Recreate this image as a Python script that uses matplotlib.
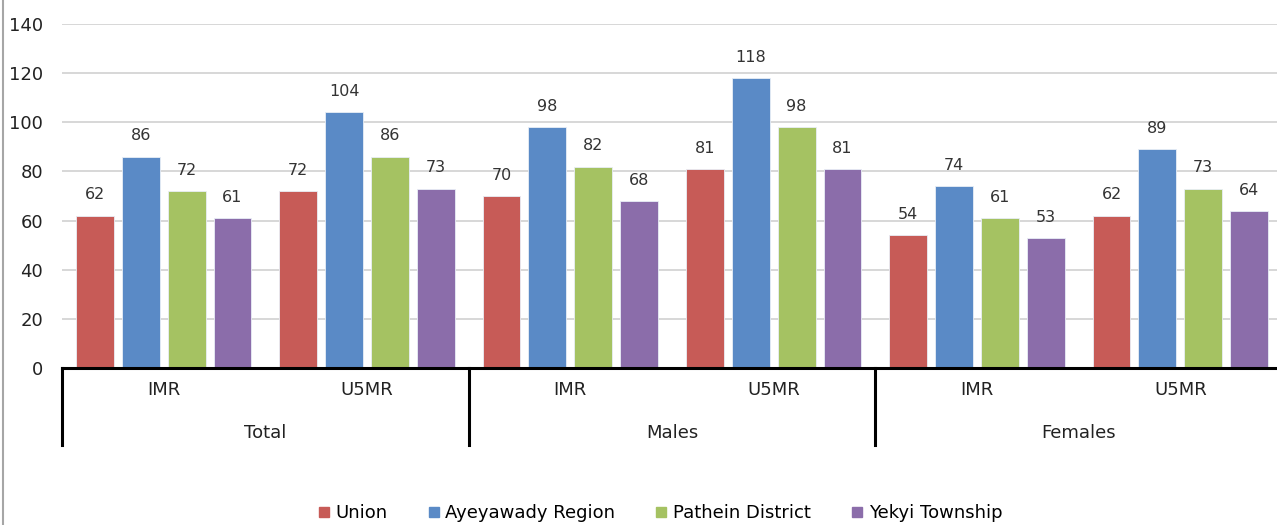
import matplotlib
matplotlib.use("Agg")
import matplotlib.pyplot as plt
from matplotlib.lines import Line2D
import numpy as np

plt.rcParams['font.family'] = ['DejaVu Sans']

groups = ['Total', 'Males', 'Females']
rates = ['IMR', 'U5MR']
series = ['Union', 'Ayeyawady Region', 'Pathein District', 'Yekyi Township']
union = [62, 72, 70, 81, 54, 62]
ayeyawady = [86, 104, 98, 118, 74, 89]
pathein = [72, 86, 82, 98, 61, 73]
yekyi = [61, 73, 68, 81, 53, 64]
colors = ['#C75B57', '#5A8AC6', '#A5C262', '#8B6DAA']

values = [union, ayeyawady, pathein, yekyi]
x = np.arange(len(union))

fig = plt.figure(figsize=(12.77, 5.25), dpi=100)
# plot area runs past the right edge of the picture, like the source
ax = fig.add_axes([62 / 1277, 157 / 525, 1220 / 1277, 344 / 525])

step = 0.2255
width = 0.186
for i, (name, vals) in enumerate(zip(series, values)):
    pos = x + (i - 1.5) * step
    ax.bar(pos, vals, width, color=colors[i], edgecolor='#E8EEF6', linewidth=0.6,
           label=name, zorder=3)
    for p, v in zip(pos, vals):
        ax.annotate(str(v), (p, v), xytext=(0, 9.5), textcoords='offset points',
                    ha='center', va='bottom', fontsize=11.5, color='#333333')

ax.set_xlim(-0.5, len(x) - 0.5)
ax.set_ylim(0, 140)
ax.set_yticks(range(0, 141, 20))
ax.tick_params(axis='y', length=0, pad=13.5, labelsize=13, labelcolor='#222222')
ax.set_xticks([])
ax.grid(axis='y', color='#D4D4D4', linewidth=1.3, zorder=0)
for s in ['top', 'right', 'left']:
    ax.spines[s].set_visible(False)
ax.spines['bottom'].set_linewidth(2.2)
ax.spines['bottom'].set_color('black')
ax.spines['bottom'].set_zorder(4)

# two-level category axis
for b in [-0.5, 1.5, 3.5, 5.5]:
    ax.plot([b, b], [0, -31.5], color='black', linewidth=2.2, clip_on=False)
for i in x:
    ax.text(i, -9, rates[i % 2], ha='center', va='center', fontsize=13, color='#222222')
for g, name in enumerate(groups):
    ax.text(2 * g + 0.5, -26.5, name, ha='center', va='center', fontsize=13, color='#222222')

# chart border on the left
fig.add_artist(Line2D([3 / 1277, 3 / 1277], [0, 1], color='#A6A6A6', linewidth=1.5))

handles = [Line2D([], [], marker='s', linestyle='none', markersize=7.5,
                  markerfacecolor=c, markeredgecolor=c) for c in colors]
fig.legend(handles, series, loc='center', bbox_to_anchor=(659 / 1277, 1 - 513 / 525),
           ncol=4, frameon=False, fontsize=13, handletextpad=0.2, columnspacing=2.1,
           handlelength=0.9)

fig.savefig('out.png', dpi=100)
